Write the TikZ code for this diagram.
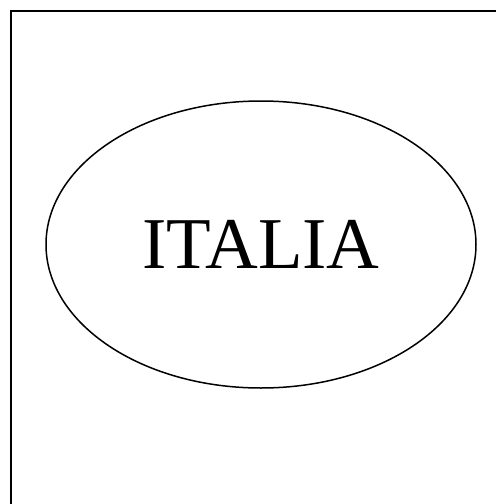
\documentclass[tikz,border=0pt]{standalone}
\usepackage{fontspec}
\setmainfont{Liberation Serif}
\usetikzlibrary{shapes.geometric}
\begin{document}
\begin{tikzpicture}[x=1pt,y=-1pt,
  country/.style={ellipse,draw,line width=1.5pt,minimum width=430pt,minimum height=287pt,inner sep=0pt,font=\fontsize{73}{73}\selectfont}]
\useasboundingbox (0,0) rectangle (496,504);
\draw[line width=2pt] (10.5,504) |- (496,11);
\node[country] (italia) at (261,244.5) {ITALIA};
\end{tikzpicture}
\end{document}
